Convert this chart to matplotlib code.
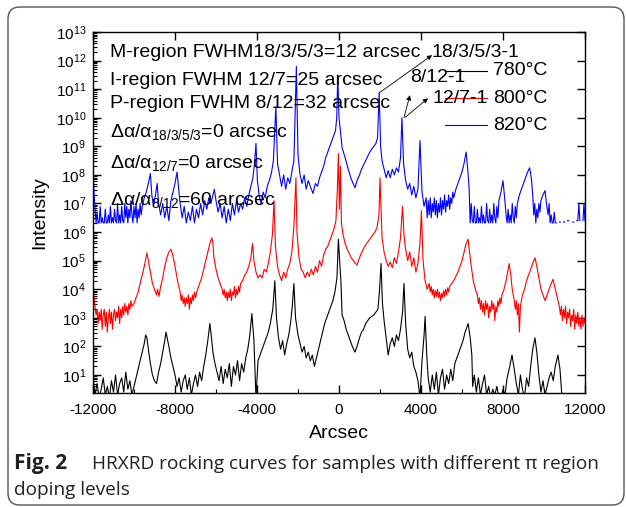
import numpy as np
import matplotlib
matplotlib.use('Agg')
import matplotlib.pyplot as plt
from matplotlib.ticker import LogLocator, MultipleLocator, NullFormatter, FixedLocator
from matplotlib.patches import FancyBboxPatch

nan = float('nan')

# (arcsec, log10 intensity)
black_780 = [
    (-12000, 0.9), (-11900, 0.3), (-11800, 0.7), (-11700, 0.2), (-11600, 0.5), (-11500, 0.9), (-11400, 0.3),
    (-11300, 0.6), (-11200, 0.2), (-11100, 0.8), (-11000, 0.4), (-10900, 1.0), (-10800, 0.3), (-10700, 0.7),
    (-10600, 0.9), (-10500, 0.4), (-10400, 1.1), (-10300, 0.5), (-10200, 0.8), (-10100, 0.3), (-10000, 0.6),
    (-9900, 0.9), (-9800, 1.2), (-9700, 1.5), (-9600, 1.8), (-9500, 2.1), (-9430, 2.4), (-9370, 2.3),
    (-9300, 1.9), (-9200, 1.4), (-9100, 1.0), (-9000, 0.8), (-8900, 0.7), (-8800, 1.1), (-8700, 1.4),
    (-8600, 1.8), (-8500, 2.2), (-8440, 2.5), (-8380, 2.3), (-8300, 2.0), (-8200, 1.6), (-8100, 1.3),
    (-8000, 1.0), (-7900, 0.6), (-7800, 0.9), (-7700, 0.4), (-7600, 0.8), (-7500, 1.0), (-7400, 0.5),
    (-7300, 0.9), (-7200, 0.3), (-7100, 0.7), (-7000, 1.0), (-6900, 0.6), (-6800, 1.1), (-6700, 0.8),
    (-6600, 1.3), (-6500, 1.7), (-6400, 2.2), (-6300, 2.8), (-6220, 2.3), (-6150, 1.8), (-6050, 1.4),
    (-5950, 1.1), (-5850, 0.8), (-5750, 1.3), (-5650, 0.7), (-5550, 1.2), (-5450, 0.9), (-5350, 1.4),
    (-5250, 0.6), (-5150, 1.3), (-5050, 1.0), (-4950, 1.5), (-4850, 0.8), (-4750, 1.4), (-4650, 1.1),
    (-4550, 1.6), (-4450, 1.9), (-4350, 2.4), (-4250, 3.15), (-4150, 2.2), (-4050, 0.2), (-3950, 1.5),
    (-3850, 1.7), (-3750, 1.9), (-3650, 2.1), (-3550, 2.3), (-3450, 2.5), (-3350, 2.8), (-3230, 3.3),
    (-3130, 4.3), (-3050, 3.0), (-2950, 2.3), (-2850, 1.9), (-2750, 2.2), (-2650, 1.7), (-2550, 2.1),
    (-2450, 2.4), (-2350, 2.9), (-2280, 3.4), (-2200, 4.2), (-2120, 3.0), (-2000, 2.4), (-1900, 2.1),
    (-1800, 1.8), (-1700, 2.0), (-1600, 1.6), (-1500, 1.8), (-1400, 1.5), (-1300, 1.7), (-1200, 1.3),
    (-1100, 1.6), (-1000, 1.9), (-900, 2.2), (-800, 2.5), (-700, 2.8), (-600, 3.0), (-500, 3.2),
    (-400, 3.4), (-300, 3.6), (-200, 3.9), (-100, 4.4), (-30, 5.75), (30, 5.0), (100, 4.2), (150, 3.1),
    (250, 2.9), (350, 2.6), (450, 2.4), (550, 2.2), (650, 2.0), (780, 1.8), (880, 2.0), (1000, 2.3),
    (1100, 2.5), (1200, 2.6), (1300, 2.8), (1400, 2.9), (1500, 3.0), (1600, 3.05), (1700, 3.1),
    (1800, 3.2), (1900, 3.3), (1980, 4.0), (2050, 4.9), (2120, 3.5), (2200, 2.9), (2300, 2.3),
    (2400, 1.7), (2500, 2.1), (2600, 2.3), (2700, 2.0), (2800, 2.4), (2900, 2.2), (3000, 2.6),
    (3100, 3.2), (3170, 4.2), (3250, 2.8), (3350, 1.9), (3450, 1.6), (3550, 1.8), (3650, 1.3),
    (3750, 1.1), (3850, 0.8), (3950, 0.2), (4050, 1.5), (4150, 2.4), (4200, 3.05), (4280, 1.7),
    (4350, 0.9), (4450, 0.4), (4550, 1.0), (4650, 0.5), (4750, 1.1), (4850, 0.3), (4950, 0.9),
    (5050, 1.2), (5150, 0.5), (5250, 1.0), (5350, 0.7), (5450, 1.2), (5550, 0.8), (5650, 1.4),
    (5750, 1.6), (5850, 1.8), (5950, 2.0), (6050, 2.2), (6150, 2.5), (6300, 2.8), (6400, 2.3),
    (6480, 1.7), (6520, 0.6), (6600, 1.0), (6700, 0.4), (6800, 0.9), (6900, 0.3), (7000, 0.7),
    (7100, 1.0), (7200, 0.3), (7300, 0.6), (7400, 0.2), (7500, 0.5), (7600, 0.3), (7700, 0.6),
    (7800, 0.2), (7900, 0.2), (8000, 0.5), (8100, 0.3), (8200, 0.9), (8300, 1.2), (8440, 1.7),
    (8550, 1.2), (8650, 0.7), (8750, 0.3), (8850, 1.0), (8950, 0.5), (9050, 0.2), (9150, 0.9),
    (9250, 0.6), (9350, 1.3), (9450, 1.9), (9560, 2.3), (9650, 1.8), (9750, 1.0), (9850, 0.4),
    (9950, 0.8), (10050, 0.3), (10150, 0.6), (10250, 0.9), (10350, 1.1), (10450, 0.8), (10550, 1.3),
    (10680, 1.7), (10780, 1.2), (10880, 0.2), (12000, 0.2)]

red_800 = [
    (-12000, 4.05), (-11950, 3.7), (-11900, 3.4), (-11850, 3.1), (-11800, 3.3), (-11750, 2.8), (-11700, 3.2),
    (-11650, 2.9), (-11600, 3.3), (-11550, 2.6), (-11500, 3.1), (-11450, 3.3), (-11400, 2.7), (-11350, 3.2),
    (-11300, 2.5), (-11250, 3.0), (-11200, 3.3), (-11150, 2.8), (-11100, 3.2), (-11050, 2.6), (-11000, 3.1),
    (-10950, 3.3), (-10900, 2.9), (-10850, 3.2), (-10800, 3.0), (-10750, 3.4), (-10700, 2.8), (-10650, 3.3),
    (-10600, 3.0), (-10550, 3.4), (-10500, 3.1), (-10450, 3.5), (-10400, 3.2), (-10350, 3.4), (-10300, 3.1),
    (-10250, 3.5), (-10200, 3.3), (-10150, 3.6), (-10100, 3.4), (-10000, 3.5), (-9900, 3.7), (-9800, 3.9),
    (-9700, 4.2), (-9600, 4.5), (-9500, 4.8), (-9420, 5.1), (-9370, 5.27), (-9300, 5.0), (-9200, 4.6),
    (-9100, 4.2), (-9000, 4.0), (-8900, 3.8), (-8850, 4.0), (-8780, 3.75), (-8700, 4.1), (-8600, 4.4),
    (-8500, 4.8), (-8400, 5.1), (-8300, 5.3), (-8200, 5.4), (-8150, 5.3), (-8050, 5.0), (-7950, 4.6),
    (-7850, 4.2), (-7750, 3.9), (-7700, 3.6), (-7650, 3.8), (-7600, 3.5), (-7550, 3.7), (-7500, 3.4),
    (-7450, 3.7), (-7400, 3.5), (-7350, 3.8), (-7300, 3.3), (-7250, 3.7), (-7200, 3.5), (-7150, 3.8),
    (-7100, 3.6), (-7050, 3.9), (-7000, 3.7), (-6900, 4.0), (-6800, 4.2), (-6700, 4.4), (-6600, 4.7),
    (-6500, 5.0), (-6400, 5.3), (-6300, 5.6), (-6200, 5.8), (-6150, 5.6), (-6100, 5.1), (-6000, 4.7),
    (-5900, 4.4), (-5800, 4.2), (-5700, 4.0), (-5650, 3.8), (-5600, 4.0), (-5550, 3.7), (-5500, 3.9),
    (-5450, 3.6), (-5400, 3.9), (-5350, 3.7), (-5300, 4.0), (-5250, 3.6), (-5200, 3.9), (-5150, 3.8),
    (-5100, 4.1), (-5050, 3.7), (-5000, 4.0), (-4950, 3.8), (-4900, 4.1), (-4850, 3.9), (-4800, 4.2),
    (-4700, 4.3), (-4600, 4.5), (-4500, 4.6), (-4400, 4.8), (-4300, 5.1), (-4220, 5.6), (-4150, 5.0),
    (-4050, 4.6), (-3950, 4.4), (-3850, 4.5), (-3750, 4.4), (-3650, 4.7), (-3550, 4.6), (-3450, 4.9),
    (-3350, 5.3), (-3250, 5.9), (-3170, 7.1), (-3100, 5.5), (-3000, 4.8), (-2900, 4.5), (-2800, 4.3),
    (-2700, 4.6), (-2600, 4.4), (-2500, 4.7), (-2400, 4.9), (-2300, 5.3), (-2200, 6.2), (-2100, 7.9),
    (-2050, 6.0), (-1950, 5.1), (-1850, 4.7), (-1750, 4.6), (-1650, 4.4), (-1550, 4.6), (-1450, 4.45),
    (-1350, 4.7), (-1250, 4.5), (-1150, 4.8), (-1050, 4.6), (-950, 5.0), (-850, 4.8), (-750, 5.2),
    (-650, 5.4), (-550, 5.5), (-450, 5.7), (-350, 5.9), (-250, 6.1), (-150, 6.4), (-80, 7.5),
    (-30, 8.75), (20, 6.8), (70, 8.3), (120, 6.3), (200, 5.9), (300, 5.6), (400, 5.4), (500, 5.25),
    (600, 5.1), (700, 5.0), (800, 4.9), (880, 4.85), (950, 5.0), (1050, 5.2), (1150, 5.35), (1250, 5.5),
    (1350, 5.6), (1450, 5.7), (1550, 5.8), (1650, 5.9), (1750, 6.0), (1850, 6.15), (1950, 6.6),
    (2000, 7.9), (2070, 6.5), (2100, 5.8), (2200, 5.3), (2300, 5.0), (2400, 4.8), (2500, 4.95),
    (2600, 4.75), (2700, 5.1), (2800, 4.9), (2900, 5.3), (3000, 5.8), (3100, 6.9), (3170, 5.9),
    (3250, 5.4), (3350, 5.0), (3450, 5.3), (3550, 4.8), (3650, 5.1), (3750, 4.6), (3850, 4.9),
    (3950, 5.6), (4020, 6.75), (4100, 5.0), (4200, 4.3), (4300, 4.0), (4400, 4.2), (4450, 3.9),
    (4500, 4.1), (4550, 3.8), (4600, 4.0), (4650, 3.7), (4700, 3.95), (4750, 3.75), (4800, 4.0),
    (4850, 3.7), (4900, 3.9), (4950, 3.6), (5000, 3.85), (5050, 3.7), (5100, 3.95), (5150, 3.75),
    (5200, 4.0), (5250, 3.8), (5300, 4.05), (5350, 3.9), (5400, 4.1), (5500, 4.2), (5600, 4.3),
    (5700, 4.45), (5800, 4.6), (5900, 4.8), (6000, 5.0), (6100, 5.3), (6200, 5.6), (6300, 5.75),
    (6350, 5.4), (6450, 4.8), (6550, 4.3), (6650, 4.0), (6750, 3.8), (6800, 3.5), (6850, 3.7),
    (6900, 3.3), (6950, 3.6), (7000, 3.2), (7050, 3.5), (7100, 3.1), (7150, 3.6), (7200, 3.3),
    (7250, 3.5), (7300, 3.0), (7350, 3.4), (7400, 3.2), (7450, 3.6), (7500, 3.3), (7550, 3.5),
    (7600, 2.9), (7650, 3.4), (7700, 3.2), (7750, 3.6), (7800, 3.4), (7850, 3.7), (7900, 3.5),
    (7950, 3.8), (8050, 4.0), (8150, 4.3), (8250, 4.7), (8300, 4.9), (8380, 4.5), (8450, 4.0),
    (8550, 3.6), (8600, 3.3), (8650, 3.6), (8700, 3.1), (8750, 3.5), (8800, 2.5), (8850, 3.4),
    (8900, 3.6), (8950, 3.8), (9050, 4.0), (9150, 4.3), (9250, 4.5), (9350, 4.7), (9450, 4.9),
    (9560, 5.1), (9650, 4.8), (9750, 4.4), (9850, 4.0), (9950, 3.8), (10050, 3.6), (10100, 3.7),
    (10200, 3.9), (10300, 4.1), (10440, 4.35), (10550, 4.0), (10650, 3.7), (10750, 3.4), (10800, 3.1),
    (10850, 3.4), (10900, 2.9), (10950, 3.3), (11000, 3.0), (11050, 3.4), (11100, 2.8), (11150, 3.2),
    (11200, 3.0), (11250, 3.3), (11300, 2.7), (11350, 3.1), (11400, 2.9), (11450, 3.3), (11500, 2.6),
    (11550, 3.1), (11600, 2.8), (11650, 3.2), (11700, 2.7), (11750, 3.0), (11800, 2.6), (11850, 3.1),
    (11900, 2.7), (11950, 3.0), (12000, 2.8)]

blue_820 = [
    (-12000, 8.0), (-11950, 7.4), (-11900, 6.8), (-11850, 6.32), (-11800, 6.7), (-11750, 6.32), (-11700, 6.32),
    (-11650, 6.9), (-11600, 6.32), (-11550, 6.5), (-11500, 6.32), (-11450, 6.32), (-11400, 6.8), (-11350, 6.32),
    (-11300, 6.32), (-11250, 6.6), (-11200, 6.32), (-11150, 6.9), (-11100, 6.32), (-11050, 6.5), (-11000, 6.32),
    (-10950, 6.8), (-10900, 6.4), (-10850, 6.32), (-10800, 7.0), (-10750, 6.32), (-10700, 6.6), (-10650, 6.32),
    (-10600, 6.9), (-10550, 6.4), (-10500, 6.32), (-10450, 7.0), (-10400, 6.5), (-10350, 6.9), (-10300, 6.32),
    (-10250, 6.8), (-10200, 6.5), (-10150, 7.1), (-10100, 6.6), (-10050, 6.32), (-10000, 6.9), (-9950, 6.5),
    (-9900, 7.0), (-9850, 6.32), (-9800, 6.8), (-9750, 6.5), (-9700, 7.0), (-9650, 6.6), (-9600, 6.9),
    (-9500, 7.2), (-9400, 7.4), (-9300, 7.7), (-9200, 8.05), (-9130, 7.3), (-9050, 6.9), (-8950, 7.3),
    (-8870, 7.7), (-8800, 7.0), (-8700, 6.6), (-8600, 7.0), (-8500, 6.5), (-8400, 6.9), (-8300, 6.4),
    (-8200, 7.1), (-8100, 7.4), (-8000, 7.7), (-7900, 8.1), (-7820, 7.5), (-7750, 7.0), (-7650, 6.5),
    (-7550, 6.9), (-7450, 6.32), (-7350, 6.7), (-7250, 6.4), (-7150, 6.9), (-7050, 6.32), (-6950, 6.8),
    (-6850, 6.5), (-6750, 7.0), (-6650, 6.6), (-6550, 7.1), (-6450, 6.8), (-6350, 7.2), (-6250, 7.0),
    (-6150, 7.3), (-6080, 7.5), (-6000, 7.1), (-5900, 6.7), (-5800, 7.0), (-5700, 6.5), (-5600, 6.9),
    (-5500, 6.32), (-5400, 6.8), (-5300, 6.4), (-5200, 7.0), (-5100, 6.6), (-5000, 7.1), (-4900, 6.7),
    (-4800, 7.0), (-4700, 6.8), (-4600, 7.2), (-4500, 6.9), (-4400, 7.3), (-4300, 7.6), (-4200, 7.9),
    (-4120, 8.4), (-4050, 9.1), (-3980, 7.8), (-3900, 7.3), (-3800, 7.0), (-3700, 7.4), (-3600, 7.2),
    (-3500, 7.6), (-3400, 7.8), (-3300, 8.05), (-3200, 8.5), (-3080, 10.4), (-3000, 8.4), (-2900, 8.0),
    (-2800, 7.6), (-2700, 8.0), (-2600, 7.5), (-2500, 7.9), (-2400, 7.7), (-2300, 8.1), (-2200, 8.5),
    (-2080, 11.8), (-2000, 8.7), (-1900, 8.0), (-1800, 7.7), (-1700, 8.0), (-1600, 7.5), (-1500, 7.8),
    (-1400, 7.6), (-1270, 7.35), (-1150, 7.7), (-1050, 7.6), (-950, 7.9), (-850, 8.1), (-750, 8.3),
    (-650, 8.6), (-550, 8.8), (-450, 9.0), (-350, 9.2), (-250, 9.4), (-170, 9.55), (-110, 10.0),
    (-60, 11.5), (0, 10.0), (60, 9.6), (150, 8.95), (300, 8.6), (450, 8.2), (600, 7.85), (780, 7.55),
    (880, 7.8), (1000, 8.0), (1100, 8.2), (1200, 8.35), (1300, 8.5), (1400, 8.65), (1500, 8.8),
    (1600, 8.9), (1700, 9.0), (1800, 9.1), (1880, 9.3), (1960, 10.9), (2030, 9.0), (2100, 8.5),
    (2200, 8.2), (2300, 7.9), (2400, 8.15), (2500, 7.9), (2600, 8.2), (2700, 8.0), (2800, 8.25),
    (2900, 8.1), (3000, 8.6), (3070, 10.0), (3150, 8.4), (3250, 7.8), (3350, 7.5), (3450, 7.7),
    (3550, 7.3), (3650, 7.6), (3750, 7.2), (3850, 7.5), (3950, 9.2), (4050, 7.4), (4150, 6.9),
    (4250, 7.2), (4300, 6.5), (4350, 7.1), (4400, 6.6), (4450, 7.2), (4500, 6.5), (4550, 7.0),
    (4600, 6.7), (4650, 7.2), (4700, 6.6), (4750, 7.1), (4800, 6.5), (4850, 7.0), (4900, 6.7),
    (4950, 7.2), (5000, 6.6), (5050, 7.1), (5100, 6.8), (5150, 7.3), (5200, 6.7), (5250, 7.1),
    (5300, 6.9), (5350, 7.3), (5400, 6.8), (5450, 7.2), (5500, 7.0), (5550, 7.4), (5600, 7.2),
    (5700, 7.5), (5800, 7.7), (5900, 7.9), (6000, 8.1), (6100, 8.4), (6200, 8.8), (6280, 8.2),
    (6350, 7.5), (6400, 6.32), (6450, 7.0), (6500, 6.4), (6550, 6.32), (6600, 6.9), (6650, 6.32),
    (6700, 6.32), (6750, 6.8), (6800, 6.32), (6850, 6.5), (6900, 6.32), (6950, 6.9), (7000, 6.32),
    (7050, 6.6), (7100, 6.32), (7150, 6.32), (7200, 7.0), (7250, 6.4), (7300, 6.32), (7350, 6.8),
    (7400, 6.32), (7450, 6.6), (7500, 6.32), (7550, 7.0), (7600, 6.5), (7650, 6.32), (7700, 6.9),
    (7750, 6.5), (7800, 7.1), (7900, 7.4), (8000, 7.8), (8080, 7.2), (8150, 6.6), (8200, 6.32),
    (8250, 6.8), (8300, 6.32), (8350, 6.6), (8400, 6.32), (8450, 7.0), (8500, 6.5), (8550, 6.32),
    (8600, 6.9), (8650, 6.5), (8700, 7.0), (8800, 7.3), (8900, 7.5), (9000, 7.7), (9100, 7.9),
    (9200, 8.1), (9300, 8.25), (9380, 7.9), (9450, 7.3), (9500, 6.6), (9550, 7.0), (9600, 6.32),
    (9650, 6.8), (9700, 6.5), (9750, 7.0), (9800, 6.7), (9850, 7.1), (9950, 7.3), (10050, 7.45),
    (10120, 7.0), (10200, 6.6), (10250, 7.0), (10300, 6.32), (10350, 6.6), (10400, 6.32), (10450, 6.32),
    (10500, 6.7), (10550, 6.32), (10600, 6.32), (10650, nan), (10750, 6.35), (10800, 6.35), (10850, nan),
    (10950, 6.35), (11000, 6.35), (11050, nan), (11150, 6.4), (11200, 6.4), (11250, nan), (11400, 6.35),
    (11450, 6.35), (11500, nan), (11600, 6.4), (11650, 6.4), (11700, 7.0), (11750, 6.4), (11800, nan),
    (11900, 6.4), (11950, 7.0), (12000, 6.4)]

series = [(black_780, 'black', '780°C'), (red_800, '#ff0000', '800°C'), (blue_820, '#0000ff', '820°C')]
xticks = [-12000, -8000, -4000, 0, 4000, 8000, 12000]
ydecades = [10.0**k for k in range(1, 14)]

notes = ['M-region FWHM18/3/5/3=12 arcsec',
         'I-region FWHM 12/7=25 arcsec',
         'P-region FWHM 8/12=32 arcsec',
         r'Δα/α$_{18/3/5/3}$=0 arcsec',
         r'Δα/α$_{12/7}$=0 arcsec',
         r'Δα/α$_{8/12}$=60 arcsec']
notes_y = [0.942, 0.867, 0.803, 0.723, 0.637, 0.535]

plt.rcParams['font.family'] = ['Liberation Sans', 'DejaVu Sans']
plt.rcParams['axes.unicode_minus'] = False
plt.rcParams['mathtext.fontset'] = 'custom'
plt.rcParams['mathtext.rm'] = 'Liberation Sans'
plt.rcParams['mathtext.it'] = 'Liberation Sans:italic'
plt.rcParams['mathtext.bf'] = 'Liberation Sans:bold'

fig = plt.figure(figsize=(6.26, 5.07), dpi=100)
ax = fig.add_axes([93/626, 1-393/507, 492/626, 361/507])

# rounded frame round the whole figure
frame = FancyBboxPatch((0.08, 0.02), 6.16, 4.98, boxstyle='round,pad=0,rounding_size=0.12',
                       transform=fig.dpi_scale_trans, fill=False, ec='#555555', lw=1.0)
fig.patches.append(frame)

for data, col, lab in series:
    x, lg = zip(*data)
    ax.plot(x, 10**np.array(lg), color=col, lw=0.8)

ax.set_yscale('log')
ax.set_xlim(-12000, 12000)
ax.set_ylim(10**0.37, 1e13)
ax.xaxis.set_major_locator(FixedLocator(xticks))
ax.xaxis.set_minor_locator(MultipleLocator(2000))
ax.yaxis.set_major_locator(FixedLocator(ydecades))
ax.yaxis.set_minor_locator(LogLocator(base=10, subs=np.arange(2, 10), numticks=30))
ax.yaxis.set_minor_formatter(NullFormatter())
ax.tick_params(which='major', direction='in', length=6, width=1, labelsize=11, top=True, right=True)
ax.tick_params(which='minor', direction='in', length=3, width=0.8, top=False, right=False)
ax.tick_params(axis='x', pad=7)
ax.tick_params(axis='y', pad=5)
for s in ax.spines.values():
    s.set_linewidth(1.0)

ax.set_xlabel('Arcsec', fontsize=14, va='center')
ax.xaxis.set_label_coords(0.5, -0.111)
ax.set_ylabel('Intensity', fontsize=14, va='center')
ax.yaxis.set_label_coords(-0.108, 0.5)

for t, y in zip(notes, notes_y):
    ax.text(0.0346, y, t, transform=ax.transAxes, fontsize=14, va='center')

# peak labels with arrows
ax.text(0.689, 0.942, '18/3/5/3-1', transform=ax.transAxes, fontsize=14, va='center')
ax.text(0.644, 0.873, '8/12-1', transform=ax.transAxes, fontsize=14, va='center')
ax.text(0.691, 0.817, '12/7-1', transform=ax.transAxes, fontsize=14, va='center')
arrow = dict(arrowstyle='-|>', color='black', lw=0.6, mutation_scale=7, shrinkA=0, shrinkB=0)
ax.annotate('', xy=(4540, 10**12.19), xytext=(2000, 10**10.89), arrowprops=arrow)
ax.annotate('', xy=(3460, 10**10.79), xytext=(3170, 10**10.01), arrowprops=arrow)
ax.annotate('', xy=(4340, 10**10.68), xytext=(3220, 10**10.01), arrowprops=arrow)

# legend drawn by hand, as in the original
for (data, col, lab), y in zip(series, [0.892, 0.817, 0.742]):
    ax.plot([0.715, 0.801], [y, y], transform=ax.transAxes, color=col, lw=0.8)
    ax.text(0.813, y, lab, transform=ax.transAxes, fontsize=14, va='center')

cap = ['Open Sans', 'DejaVu Sans']
fig.text(14/626, 1-464/507, 'Fig. 2', family=cap, fontweight='bold', fontsize=15, va='center', color='#231f20')
fig.text(92/626, 1-464/507, 'HRXRD rocking curves for samples with different π region',
         family=cap, fontsize=13.7, va='center', color='#231f20')
fig.text(14/626, 1-490/507, 'doping levels', family=cap, fontsize=13.7, va='center', color='#231f20')

fig.savefig('out.png', dpi=100)
